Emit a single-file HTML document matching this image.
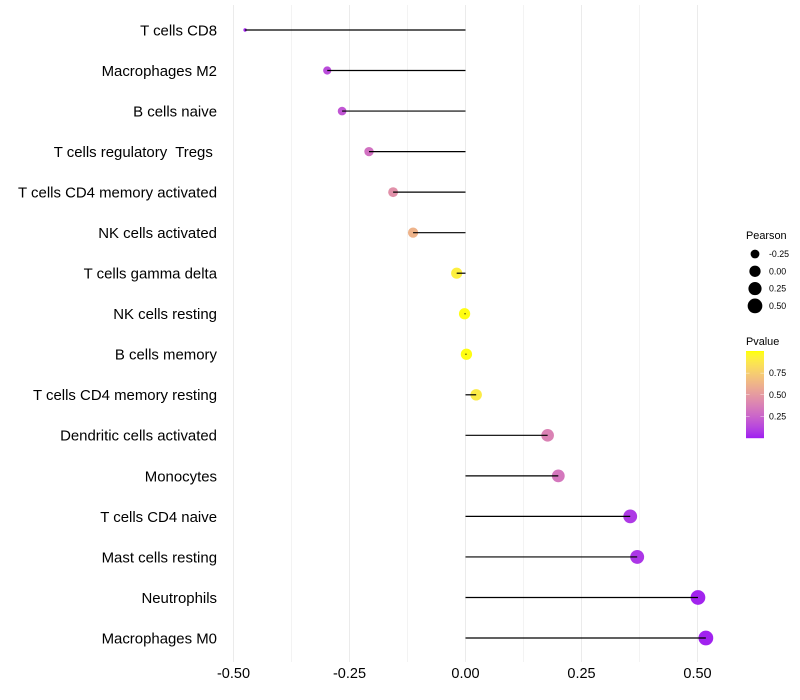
<!DOCTYPE html>
<html lang="en">
<head>
<meta charset="utf-8">
<title>Pearson correlation lollipop chart</title>
<style>
  html, body { margin: 0; padding: 0; background: #ffffff; }
  svg { display: block; font-family: "Liberation Sans", Arial, sans-serif; }
  text { white-space: pre; fill: #000000; }
</style>
</head>
<body>
<svg id="chart" xmlns="http://www.w3.org/2000/svg" width="800" height="700" viewBox="0 0 800 700">
  <rect x="0" y="0" width="800" height="700" fill="#ffffff"/>
  <g id="grid"></g>
  <g id="stems"></g>
  <g id="points"></g>
  <g id="ylabels"></g>
  <g id="xlabels"></g>
  <g id="size-legend"></g>
  <g id="color-legend"></g>
</svg>
<script>
const categories = [
  "T cells CD8", "Macrophages M2", "B cells naive", "T cells regulatory  Tregs ",
  "T cells CD4 memory activated", "NK cells activated", "T cells gamma delta",
  "NK cells resting", "B cells memory", "T cells CD4 memory resting",
  "Dendritic cells activated", "Monocytes", "T cells CD4 naive",
  "Mast cells resting", "Neutrophils", "Macrophages M0"
];
const pearson = [-0.475, -0.298, -0.266, -0.208, -0.156, -0.113, -0.019, -0.002,
  0.002, 0.023, 0.177, 0.200, 0.355, 0.370, 0.501, 0.518];
const pvalue = [0.01, 0.14, 0.18, 0.30, 0.45, 0.62, 0.92, 0.99,
  0.99, 0.90, 0.38, 0.33, 0.07, 0.06, 0.01, 0.005];
const xTicks = [-0.5, -0.25, 0, 0.25, 0.5];
const xMinorTicks = [-0.375, -0.125, 0.125, 0.375];
const xTickLabels = ["-0.50", "-0.25", "0.00", "0.25", "0.50"];
const sizeLegendValues = [-0.25, 0, 0.25, 0.5];
const sizeLegendLabels = ["-0.25", "0.00", "0.25", "0.50"];
const colorLegendValues = [0.25, 0.5, 0.75];
const colorLegendLabels = ["0.25", "0.50", "0.75"];

const NS = "http://www.w3.org/2000/svg";
function make(parent, tag, attrs, content) {
  const el = document.createElementNS(NS, tag);
  for (const k in attrs) el.setAttribute(k, attrs[k]);
  if (content !== undefined) el.textContent = content;
  parent.appendChild(el);
  return el;
}

/* axis functions */
function xScale(v) { return 465.5 + v * 464; }
function yScale(i) { return 30 + i * (608 / (categories.length - 1)); }
function sizeScale(v) {
  const lo = Math.min.apply(null, pearson);
  const hi = Math.max.apply(null, pearson);
  const t = Math.max(0, Math.min(1, (v - lo) / (hi - lo)));
  return 1.7 + 5.7 * Math.sqrt(t);
}
function barY(p) { return 438 - p * 86.5; }

/* purple to yellow gradient interpolated in Lab, as ggplot does */
function hexLab(r, g, b) {
  const f = c => { c /= 255; return c > 0.04045 ? Math.pow((c + 0.055) / 1.055, 2.4) : c / 12.92; };
  const R = f(r), G = f(g), B = f(b);
  const X = (0.4124 * R + 0.3576 * G + 0.1805 * B) / 0.95047;
  const Y = 0.2126 * R + 0.7152 * G + 0.0722 * B;
  const Z = (0.0193 * R + 0.1192 * G + 0.9505 * B) / 1.08883;
  const h = t => t > 0.008856 ? Math.cbrt(t) : 7.787 * t + 16 / 116;
  return [116 * h(Y) - 16, 500 * (h(X) - h(Y)), 200 * (h(Y) - h(Z))];
}
const lowLab = hexLab(160, 32, 240);
const highLab = hexLab(255, 255, 0);
function colorScale(p) {
  const t = Math.max(0, Math.min(1, p));
  const L = lowLab[0] + (highLab[0] - lowLab[0]) * t;
  const a = lowLab[1] + (highLab[1] - lowLab[1]) * t;
  const b = lowLab[2] + (highLab[2] - lowLab[2]) * t;
  const fy = (L + 16) / 116, fx = fy + a / 500, fz = fy - b / 200;
  const g = t3 => { const c = t3 * t3 * t3; return c > 0.008856 ? c : (t3 - 16 / 116) / 7.787; };
  const X = g(fx) * 0.95047, Y = g(fy), Z = g(fz) * 1.08883;
  const lin = [
    3.2406 * X - 1.5372 * Y - 0.4986 * Z,
    -0.9689 * X + 1.8758 * Y + 0.0415 * Z,
    0.0557 * X - 0.204 * Y + 1.057 * Z
  ];
  const out = lin.map(c => {
    c = Math.max(0, Math.min(1, c));
    c = c > 0.0031308 ? 1.055 * Math.pow(c, 1 / 2.4) - 0.055 : 12.92 * c;
    return Math.round(c * 255);
  });
  return "rgb(" + out.join(",") + ")";
}

const grid = document.getElementById("grid");
xMinorTicks.forEach(v => {
  const el = make(grid, "line", { x1: xScale(v), x2: xScale(v), y1: 5, y2: 662, stroke: "#f3f3f3", "stroke-width": 1 });
  
  
});
xTicks.forEach(v => {
  const el = make(grid, "line", { x1: xScale(v), x2: xScale(v), y1: 5, y2: 662, stroke: "#ebebeb", "stroke-width": 1 });
  
  
});

const stems = document.getElementById("stems");
const pts = document.getElementById("points");
const ylabels = document.getElementById("ylabels");
categories.forEach((name, i) => {
  const c = make(pts, "circle", { cx: xScale(pearson[i]), cy: yScale(i), r: sizeScale(pearson[i]), fill: colorScale(pvalue[i]) });
  
  

  const s = make(stems, "line", { x1: xScale(0), x2: xScale(pearson[i]), y1: yScale(i), y2: yScale(i), stroke: "#000000", "stroke-width": 1.2 });
  
  

  const t = make(ylabels, "text", { x: 217, y: yScale(i) + 5.4, "text-anchor": "end", "font-size": 14.95 }, name);
  
  
});
/* stems are painted above the points */
document.getElementById("chart").insertBefore(pts, stems);

const xlabels = document.getElementById("xlabels");
xTicks.forEach((v, i) => {
  const t = make(xlabels, "text", { x: xScale(v), y: 678, "text-anchor": "middle", "font-size": 14.5 }, xTickLabels[i]);
  
  
});

/* Pearson size legend */
const sizeLegend = document.getElementById("size-legend");
const sizeTitle = make(sizeLegend, "text", { x: 746, y: 239, "font-size": 10.9 }, "Pearson");


sizeLegendValues.forEach((v, i) => {
  const y = 254 + i * 17.3;
  const c = make(sizeLegend, "circle", { cx: 755, cy: y, r: sizeScale(v), fill: "#000000" });
  
  
  const t = make(sizeLegend, "text", { x: 769, y: y + 3, "font-size": 8.8 }, sizeLegendLabels[i]);
  
  
});

/* Pvalue colour bar */
const colorLegend = document.getElementById("color-legend");
const colorTitle = make(colorLegend, "text", { x: 746, y: 345, "font-size": 10.9 }, "Pvalue");


for (let k = 0; k < 87; k++) {
  const r = make(colorLegend, "rect", { x: 746, y: 351 + k, width: 18, height: 1.2, fill: colorScale(1 - k / 86) });
  
  
}
colorLegendValues.forEach((v, i) => {
  const y = barY(v);
  const a = make(colorLegend, "line", { x1: 746, x2: 749.6, y1: y, y2: y, stroke: "#ffffff", "stroke-width": 0.5, "stroke-opacity": 0.8 });
  
  
  const b = make(colorLegend, "line", { x1: 760.4, x2: 764, y1: y, y2: y, stroke: "#ffffff", "stroke-width": 0.5, "stroke-opacity": 0.8 });
  
  
  const t = make(colorLegend, "text", { x: 769, y: y + 3, "font-size": 8.8 }, colorLegendLabels[i]);
  
  
});
</script>
</body>
</html>
